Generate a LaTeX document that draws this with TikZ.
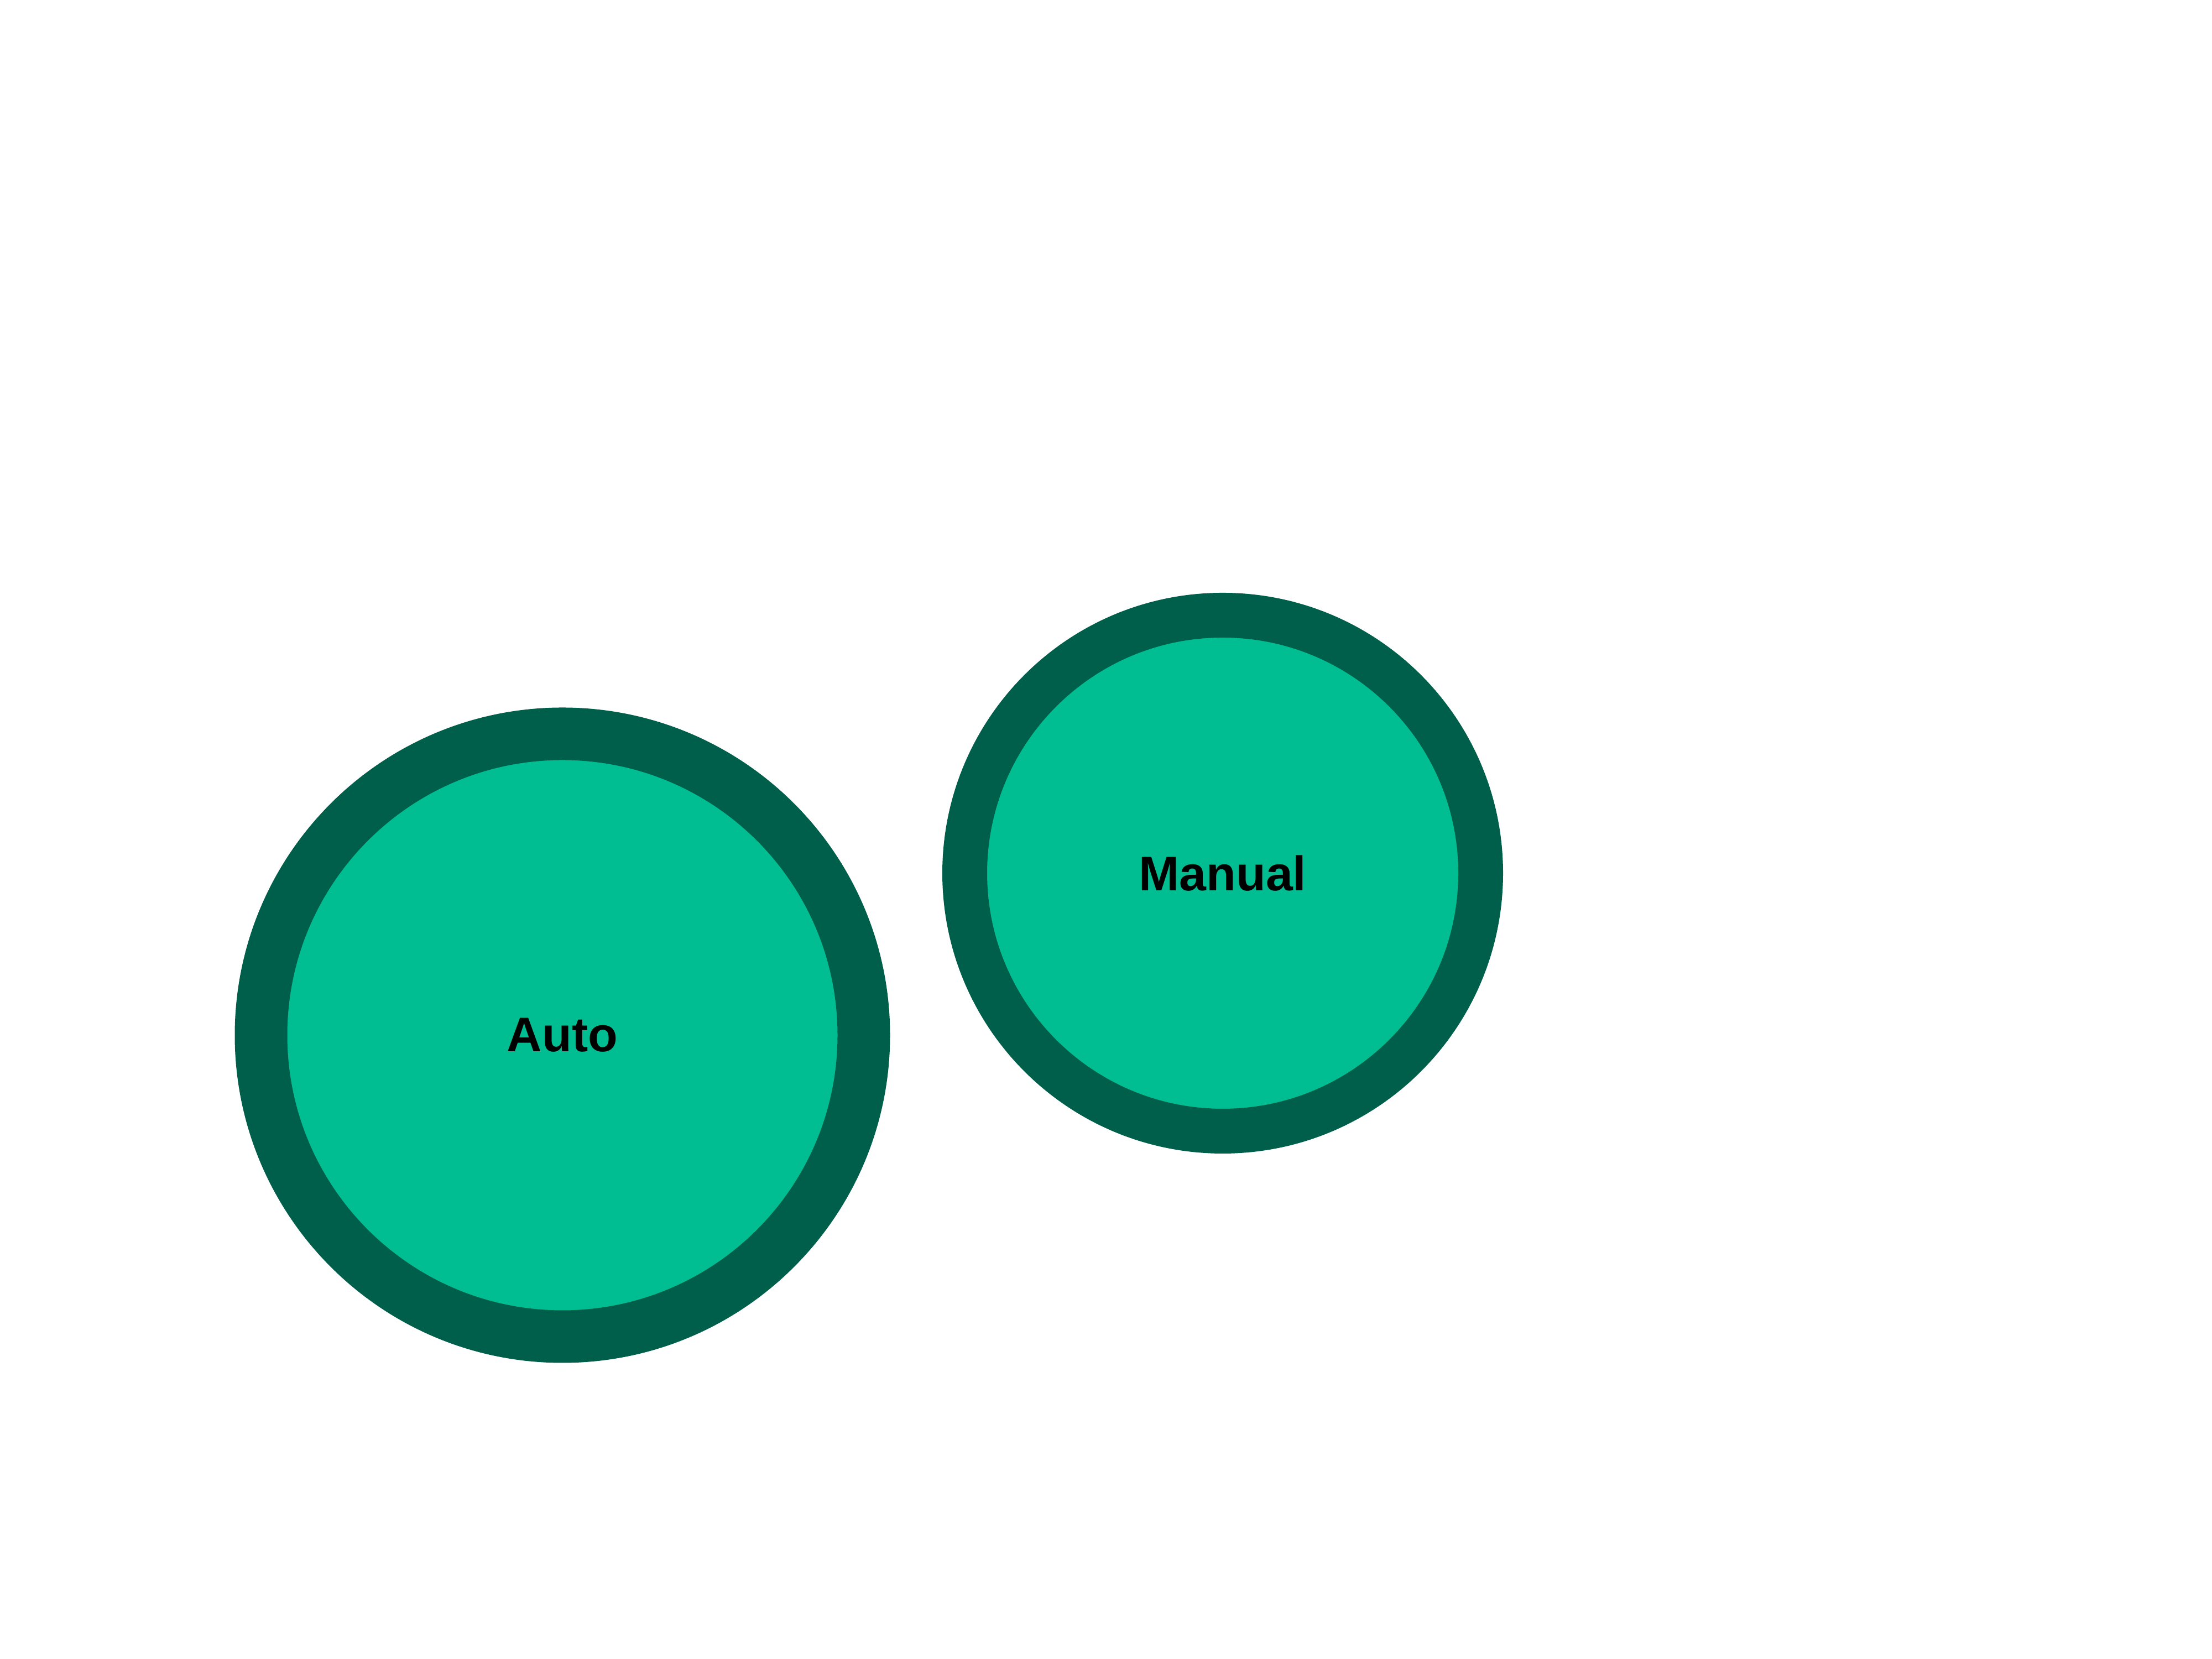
\documentclass[tikz,border=0pt]{standalone}
\usepackage{fontspec}
\setmainfont{Liberation Sans}
\definecolor{ringfill}{HTML}{00BD92}
\definecolor{ringline}{HTML}{005F4B}
\begin{document}
\begin{tikzpicture}
\useasboundingbox[fill=white] (0,0) rectangle (40,30);
\tikzset{
  ring/.style={circle, draw=ringline, fill=ringfill, inner sep=0pt,
    font=\fontsize{25}{30}\selectfont\bfseries, text=black}
}
\node[ring, minimum size=10.90cm, line width=0.95cm] (auto) at (10.17,11.28) {Auto};
\node[ring, minimum size=9.33cm, line width=0.81cm] (manual) at (22.11,14.21) {Manual};
\end{tikzpicture}
\end{document}
